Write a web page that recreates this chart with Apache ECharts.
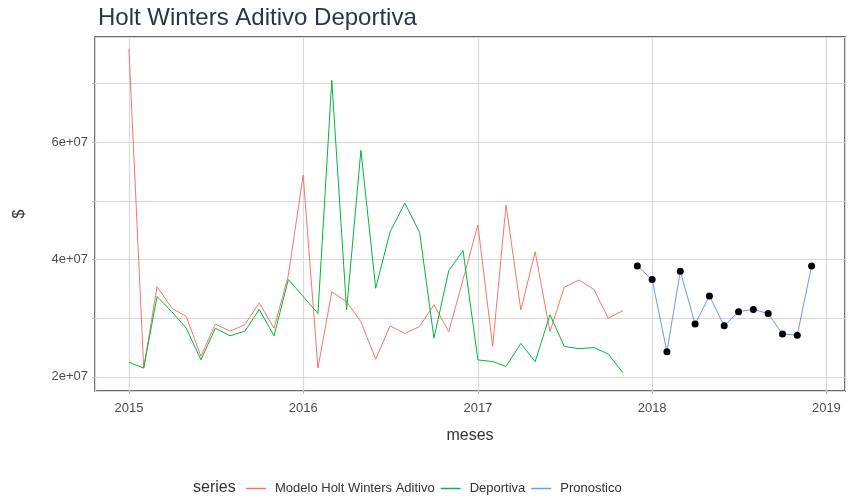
<!DOCTYPE html>
<html>
<head>
    <meta charset="UTF-8">
    <title>Holt Winters Aditivo Deportiva</title>
    <script type="text/javascript" src="https://cdn.jsdelivr.net/npm/echarts@6/dist/echarts.min.js"></script>
</head>
<body style="margin:0">
<div id="main" style="width:850px;height:503px;"></div>
<script type="text/javascript">
    // meses observados: 2015-01 .. 2017-11, pronostico: 2017-12 .. 2018-12
    var mesesObs = [];
    for (var i = 0; i < 35; i++) {
        var d = new Date(2015, i, 1);
        mesesObs.push(d.getFullYear() + '-' + (d.getMonth() + 1) + '-01');
    }
    var mesesPron = [];
    for (var j = 0; j < 13; j++) {
        var d2 = new Date(2017, 11 + j, 1);
        mesesPron.push(d2.getFullYear() + '-' + (d2.getMonth() + 1) + '-01');
    }

    // valores en millones
    var modeloHW = [75.9, 21.5, 35.4, 31.7, 30.3, 23.5, 29.0, 27.8, 28.9, 32.6, 28.3, 37.3,
        54.4, 21.5, 34.5, 32.8, 29.4, 23.0, 28.7, 27.4, 28.6, 32.3, 27.7, 36.6,
        45.9, 25.2, 49.3, 31.4, 41.3, 27.7, 35.3, 36.5, 34.9, 30.0, 31.3];
    var deportiva = [22.5, 21.5, 33.7, 31.1, 28.3, 22.9, 28.3, 27.0, 27.8, 31.5, 27.0, 36.6,
        33.7, 30.8, 70.5, 31.4, 58.6, 35.1, 44.7, 49.6, 44.6, 26.6, 38.1, 41.5,
        22.9, 22.6, 21.8, 25.7, 22.6, 30.6, 25.2, 24.8, 25.0, 23.9, 20.7];
    var pronostico = [38.9, 36.6, 24.3, 38.0, 29.0, 33.8, 28.7, 31.1, 31.5, 30.8, 27.3, 27.1, 38.9];

    function pares(fechas, vals) {
        return fechas.map(function (f, k) { return [f, vals[k] * 1e6]; });
    }

    var txt = '#4d4d4d';
    var grid = '#d9d9d9';
    var myChart = echarts.init(document.getElementById('main'));
    var option = {
        backgroundColor: '#fff',
        animation: false,
        title: [
            {
                text: 'Holt Winters Aditivo Deportiva',
                left: 93, top: 1,
                textStyle: {fontFamily: 'Liberation Sans', fontSize: 24, fontWeight: 'normal', color: '#2b3645'}
            },
            {
                text: 'series',
                left: 188, top: 475,
                textStyle: {fontFamily: 'Liberation Sans', fontSize: 16, fontWeight: 'normal', color: '#333'}
            }
        ],
        legend: {
            left: 241, top: 477,
            itemWidth: 20, itemHeight: 1.5, itemGap: 6,
            icon: 'rect',
            textStyle: {fontFamily: 'Liberation Sans', fontSize: 13, color: '#333', padding: [0, 0, 0, 4]},
            data: [
                {name: 'Modelo Holt Winters Aditivo'},
                {name: 'Deportiva'},
                {name: 'Pronostico', itemStyle: {color: '#619CFF'}}
            ]
        },
        grid: {
            left: 95, right: 5, top: 37, bottom: 112,
            outerBoundsMode: 'none',
            show: true, borderColor: '#2f3b4c', borderWidth: 1.5, backgroundColor: '#fff'
        },
        xAxis: {
            type: 'time',
            min: new Date(2014, 9, 22).getTime(),
            max: new Date(2019, 1, 9).getTime(),
            splitNumber: 4,
            name: 'meses',
            nameLocation: 'middle',
            nameGap: 37,
            nameTextStyle: {fontFamily: 'Liberation Sans', fontSize: 16, color: '#333'},
            axisLine: {show: false},
            axisTick: {show: true, length: 3, lineStyle: {color: '#bbb'}},
            axisLabel: {
                fontFamily: 'Liberation Sans', fontSize: 13, color: txt, margin: 11,
                showMinLabel: false, showMaxLabel: false,
                formatter: function (v) {
                    var d = new Date(v);
                    return (d.getMonth() === 0 && d.getDate() === 1) ? String(d.getFullYear()) : '';
                }
            },
            splitLine: {show: true, lineStyle: {color: grid, width: 1.2}}
        },
        yAxis: {
            type: 'value',
            min: 17.6e6,
            max: 77.9e6,
            splitNumber: 6,
            name: '$',
            nameLocation: 'middle',
            nameGap: 67,
            nameTextStyle: {fontFamily: 'Liberation Sans', fontSize: 16, color: '#333'},
            axisLine: {show: false},
            axisTick: {show: true, length: 3, lineStyle: {color: '#bbb'}},
            axisLabel: {
                fontFamily: 'Liberation Sans', fontSize: 13, color: txt, margin: 7,
                showMinLabel: false, showMaxLabel: false,
                formatter: function (v) {
                    return (Math.round(v) % 2e7 === 0) ? (v / 1e7) + 'e+07' : '';
                }
            },
            splitLine: {show: true, lineStyle: {color: grid, width: 1.2}}
        },
        series: [
            {
                name: 'Modelo Holt Winters Aditivo',
                type: 'line',
                data: pares(mesesObs, modeloHW),
                showSymbol: false,
                itemStyle: {color: '#F8766D'},
                lineStyle: {width: 1, color: '#F8766D'}
            },
            {
                name: 'Deportiva',
                type: 'line',
                data: pares(mesesObs, deportiva),
                showSymbol: false,
                itemStyle: {color: '#00BA38'},
                lineStyle: {width: 1, color: '#00BA38'}
            },
            {
                name: 'Pronostico',
                type: 'line',
                data: pares(mesesPron, pronostico),
                symbol: 'circle',
                symbolSize: 7,
                itemStyle: {color: '#000'},
                lineStyle: {width: 1, color: '#619CFF'}
            }
        ]
    };
    myChart.setOption(option);
</script>
</body>
</html>
